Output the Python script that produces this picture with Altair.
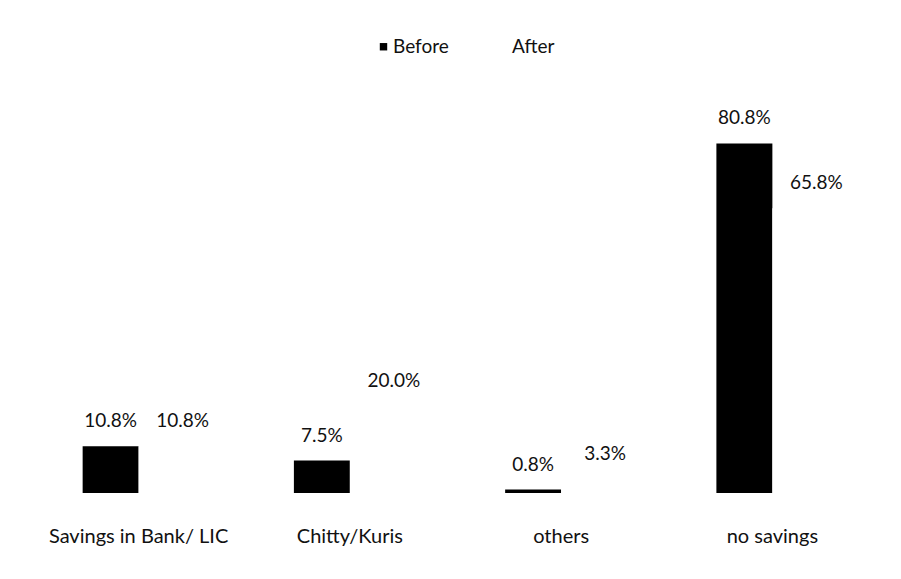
import altair as alt
import pandas as pd

categories = ["Savings in Bank/ LIC", "Chitty/Kuris", "others", "no savings"]
before = [10.8, 7.5, 0.8, 80.8]
after = [10.8, 20.0, 3.3, 65.8]
series = ["Before", "After"]

rows = []
for c, b, a in zip(categories, before, after):
    rows.append({"category": c, "series": "Before", "value": b, "label": f"{b:.1f}%"})
    rows.append({"category": c, "series": "After", "value": a, "label": f"{a:.1f}%"})
df = pd.DataFrame(rows)

FONT = "Lato"
FS = 19

x = alt.X("category:N", sort=categories,
          scale=alt.Scale(paddingInner=0.47, paddingOuter=0.235),
          axis=alt.Axis(title=None, ticks=False, domain=False, labelAngle=0,
                        labelPadding=33, labelFontSize=20, labelFont=FONT,
                        labelColor="#111", grid=False))
xo = alt.XOffset("series:N", sort=series, scale=alt.Scale(paddingInner=0, paddingOuter=0))
y = alt.Y("value:Q", scale=alt.Scale(domain=[0, 95], nice=False), axis=None)

base = alt.Chart(df)

bars = base.mark_bar().encode(
    x=x, xOffset=xo, y=y,
    color=alt.Color("series:N", sort=series,
                    scale=alt.Scale(domain=series, range=["#000000", "#ffffff"]),
                    legend=alt.Legend(title=None, orient="none", direction="horizontal",
                                      legendX=341, legendY=-45, symbolType="square",
                                      symbolSize=55, symbolStrokeWidth=0,
                                      labelFontSize=FS, labelFont=FONT, labelColor="#111",
                                      labelOffset=0, columnPadding=44)),
)

txt_before = base.transform_filter(alt.datum.series == "Before").mark_text(
    baseline="middle", dy=-25, fontSize=FS, font=FONT, color="#111"
).encode(x=x, xOffset=xo, y=y, text="label:N")

txt_after = base.transform_filter(alt.datum.series == "After").mark_text(
    baseline="middle", dy=-25, dx=16, fontSize=FS, font=FONT, color="#111"
).encode(x=x, xOffset=xo, y=y, text="label:N")

chart = alt.layer(bars, txt_before, txt_after).properties(
    width=845, height=411,
    autosize=alt.AutoSizeParams(type="none"),
    padding={"left": 33, "top": 82, "right": 23, "bottom": 86},
).configure(background="white", view=alt.ViewConfig(stroke=None))

chart.save("out.html", embed_options={"renderer": "svg", "actions": False})
